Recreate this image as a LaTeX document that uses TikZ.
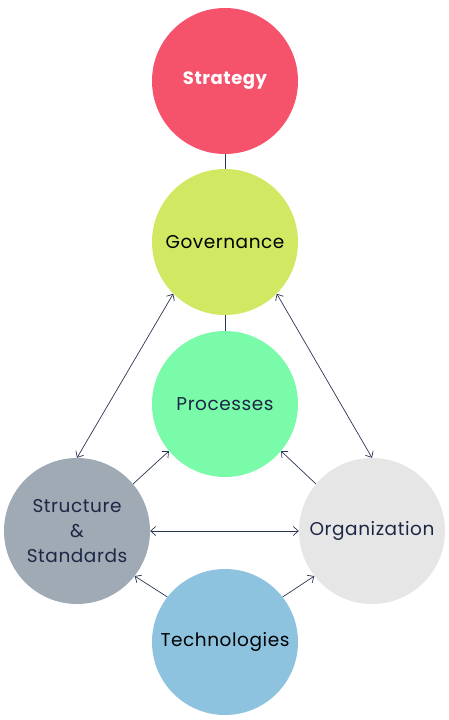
\documentclass[tikz,border=0pt]{standalone}
\usepackage{fontspec}
\setmainfont{Poppins}[LetterSpace=3]
\usetikzlibrary{arrows.meta}
\definecolor{cstrat}{HTML}{F5526B}
\definecolor{cgov}{HTML}{D0E862}
\definecolor{cproc}{HTML}{7AFBAA}
\definecolor{cstruct}{HTML}{A0AAB4}
\definecolor{corg}{HTML}{E6E6E6}
\definecolor{ctech}{HTML}{8EC3E0}
\definecolor{navy}{HTML}{1B2745}
\definecolor{lnk}{HTML}{2A3550}
\begin{document}
\begin{tikzpicture}[x=1pt,y=-1pt,
  circ/.style={circle,minimum size=146pt,inner sep=0pt,font=\fontsize{18.5}{25}\selectfont,align=center},
  lnkline/.style={draw=lnk,line width=0.7pt},
  tip/.style={lnkline,{Straight Barb[length=5pt,width=9pt]}-{Straight Barb[length=5pt,width=9pt]}},
  tipend/.style={lnkline,-{Straight Barb[length=5pt,width=9pt]}}]
\useasboundingbox (0,0) rectangle (448,720);
\node[circ,fill=cstrat,text=white,font=\fontsize{18}{25}\selectfont\bfseries] (strat) at (225,81) {Strategy};
\node[circ,fill=cgov,text=black] (gov) at (225,242) {Governance};
\node[circ,fill=cproc,text=navy] (proc) at (225,404) {Processes};
\node[circ,fill=cstruct,text=navy] (struct) at (77,531) {Structure\\\&\\Standards};
\node[circ,fill=corg,text=navy] (org) at (372,531) {Organization};
\node[circ,fill=ctech,text=black] (tech) at (225,642) {Technologies};
\draw[lnkline] (strat) -- (gov);
\draw[lnkline] (gov) -- (proc);
\draw[tip] (gov.225) -- (struct.90);
\draw[tip] (gov.315) -- (org.90);
\draw[tip] (struct) -- (org);
\draw[tipend] (struct.40) -- (proc.220);
\draw[tipend] (org.140) -- (proc.320);
\draw[tipend] (tech.142) -- (struct.322);
\draw[tipend] (tech.38) -- (org.218);
\end{tikzpicture}
\end{document}
